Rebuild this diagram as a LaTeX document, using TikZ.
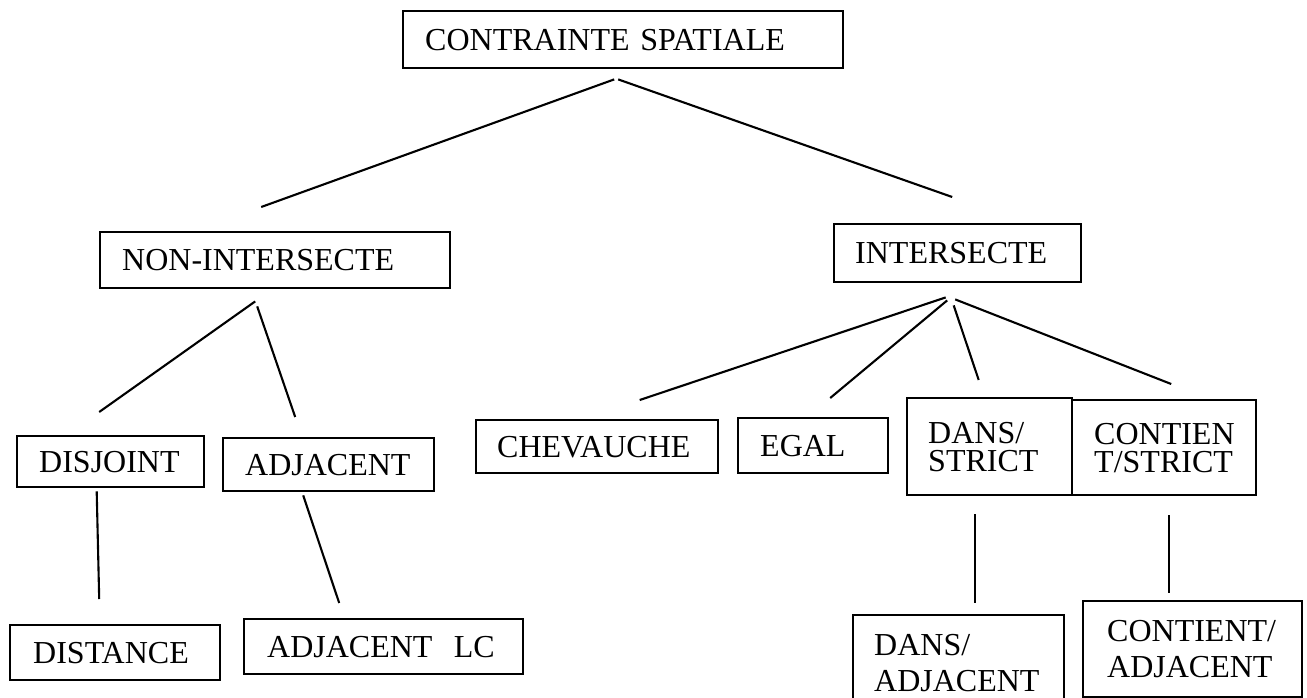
\documentclass[tikz,border=0pt]{standalone}
\usepackage{fontspec}
\setmainfont{Liberation Serif}
\usepackage{tikz}

\begin{document}
\begin{tikzpicture}[x=1pt,y=-1pt,
    box/.style={draw,line width=2.4pt,anchor=north west,align=left,inner ysep=0pt,inner xsep=22pt,font=\fontsize{32}{36}\selectfont},
    tbox/.style={box,font=\fontsize{32}{28}\selectfont},
    link/.style={line width=2.1pt}]
        \useasboundingbox (0,0) rectangle (1307,697);
        \clip (0,0) rectangle (1307,697);
        \node[box,minimum width=440pt,minimum height=57pt,text width=396pt] (cs) at (402,10) {CONTRAINTE SPATIALE};
        \node[box,minimum width=350pt,minimum height=56pt,text width=306pt] (ni) at (99,231) {NON-INTERSECTE};
        \node[box,inner xsep=21pt,minimum width=247pt,minimum height=58pt,text width=205pt] (in) at (833,223) {INTERSECTE};
        \node[box,minimum width=187pt,minimum height=51pt,text width=143pt] (dj) at (16,435) {DISJOINT};
        \node[box,minimum width=211pt,minimum height=53pt,text width=167pt] (adj) at (222,437) {ADJACENT};
        \node[box,inner xsep=23pt,minimum width=210pt,minimum height=55pt,text width=164pt] (dist) at (9,624) {DISTANCE};
        \node[box,inner xsep=23pt,minimum width=279pt,minimum height=55pt,text width=233pt] (adjlc) at (243,618) {\mbox{ADJACENT\ \ LC}};
        \node[box,inner xsep=21pt,minimum width=242pt,minimum height=53pt,text width=200pt] (chev) at (475,419) {\mbox{CHEVAUCHE}};
        \node[box,minimum width=150pt,minimum height=55pt,text width=106pt] (egal) at (737,417) {EGAL};
        \node[tbox,inner xsep=21pt,minimum width=165pt,minimum height=97pt,text width=123pt] (dst) at (906,397) {DANS/\\STRICT};
        \node[tbox,minimum width=184pt,minimum height=95pt,text width=140pt] (cst) at (1071,399) {\mbox{CONTIEN}\\\mbox{T/STRICT}};
        \node[box,inner xsep=21pt,minimum width=211pt,minimum height=95pt,text width=169pt] (dadj) at (852,614) {DANS/\\ADJACENT};
        \node[box,inner xsep=24pt,minimum width=219pt,minimum height=96pt,text width=171pt] (cadj) at (1082,600) {CONTIENT/\\ADJACENT};
        \draw[link] ([shift={(-9,10)}]cs.south) -- ([shift={(-14,-24)}]ni.north);
        \draw[link] ([shift={(-5,10)}]cs.south) -- ([shift={(-5.5,-26)}]in.north);
        \draw[link] ([shift={(-20,12)}]ni.south) -- ([shift={(-11.5,-23)}]dj.north);
        \draw[link] ([shift={(-18,17)}]ni.south) -- ([shift={(-33.5,-20)}]adj.north);
        \draw[link] ([shift={(-14,3)}]dj.south) -- ([shift={(-16,-25)}]dist.north);
        \draw[link] ([shift={(-25.5,3)}]adj.south) -- ([shift={(-44.5,-15)}]adjlc.north);
        \draw[link] ([shift={(-12,14)}]in.south) -- ([shift={(42.5,-19)}]chev.north);
        \draw[link] ([shift={(-10.5,17)}]in.south) -- ([shift={(17,-19)}]egal.north);
        \draw[link] ([shift={(-4,22)}]in.south) -- ([shift={(-11,-17)}]dst.north);
        \draw[link] ([shift={(-2.5,16)}]in.south) -- ([shift={(7,-15)}]cst.north);
        \draw[link] ([shift={(-14.5,18)}]dst.south) -- ([shift={(16.5,-11)}]dadj.north);
        \draw[link] ([shift={(5,19)}]cst.south) -- ([shift={(-23.5,-7)}]cadj.north);
      \end{tikzpicture}
\end{document}
